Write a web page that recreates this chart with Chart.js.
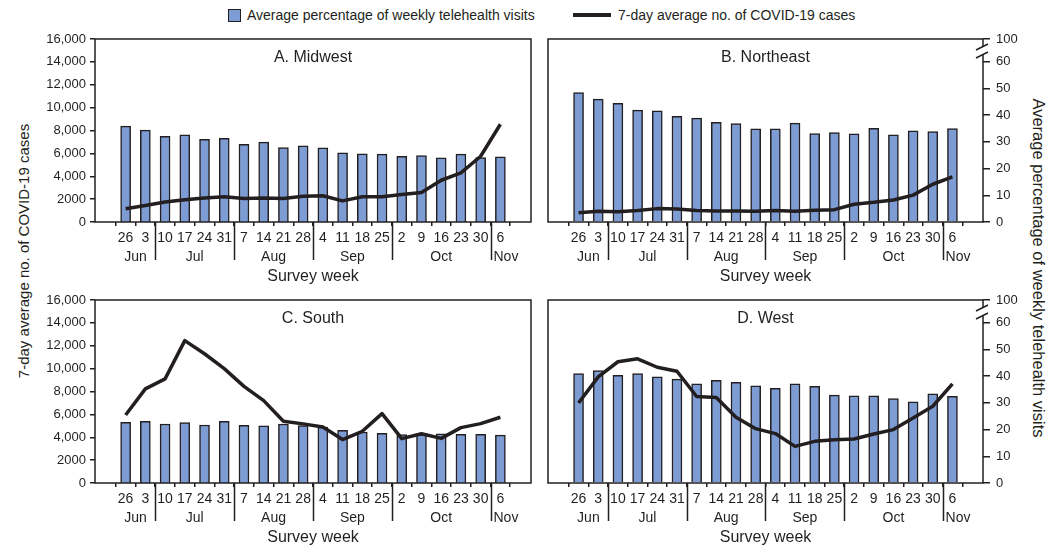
<!DOCTYPE html>
<html>
<head>
<meta charset="utf-8">
<script src="https://cdn.jsdelivr.net/npm/chart.js@4.4.1/dist/chart.umd.min.js"></script>
<style>
  body { margin: 0; background: #fff; font-family: "Liberation Sans", Arial, sans-serif; color: #231f20; }
  #wrap { position: relative; width: 1062px; height: 555px; overflow: hidden; }
  .panel { position: absolute; width: 540px; height: 260px; }
  .panel.right { width: 522px; }
  .lg { position: absolute; font-size: 14px; line-height: 16px; white-space: nowrap; }
  .ytitle { position: absolute; font-size: 15px; line-height: 18px; white-space: nowrap; }
</style>
</head>
<body>
<div id="wrap">
  <!-- legend -->
  <div class="lg" style="left:228px;top:9px;width:11px;height:11px;background:#7d9cd4;border:1.5px solid #231f20;"></div>
  <div class="lg" style="left:247px;top:7px;">Average percentage of weekly telehealth visits</div>
  <div class="lg" style="left:573px;top:13px;width:38px;height:4px;background:#231f20;"></div>
  <div class="lg" style="left:618px;top:7px;">7-day average no. of COVID-19 cases</div>

  <!-- axis titles -->
  <div class="ytitle" style="left:24px;top:251px;transform:translate(-50%,-50%) rotate(-90deg);">7-day average no. of COVID-19 cases</div>
  <div class="ytitle" style="left:1039px;top:268px;font-size:16.5px;transform:translate(-50%,-50%) rotate(90deg);">Average percentage of weekly telehealth visits</div>

  <div class="panel" style="left:0;top:30px;"><canvas id="chartMidwest"></canvas></div>
  <div class="panel right" style="left:540px;top:30px;"><canvas id="chartNortheast"></canvas></div>
  <div class="panel" style="left:0;top:291px;"><canvas id="chartSouth"></canvas></div>
  <div class="panel right" style="left:540px;top:291px;"><canvas id="chartWest"></canvas></div>
</div>

<script>
// Semanas da pesquisa (rótulos do eixo x)
const weekDays = ['26', '3', '10', '17', '24', '31', '7', '14', '21', '28',
                  '4', '11', '18', '25', '2', '9', '16', '23', '30', '6'];
const monthNames = ['Jun', 'Jul', 'Aug', 'Sep', 'Oct', 'Nov'];
const monthWeeks = [2, 4, 4, 4, 5, 1];

// Eixo esquerdo: casos
const caseTickValues = [0, 2000, 4000, 6000, 8000, 10000, 12000, 14000, 16000];
const caseTickLabels = ['0', '2000', '4,000', '6,000', '8,000', '10,000', '12,000', '14,000', '16,000'];

// Eixo direito: percentual (com quebra 60 -> 100)
const pctTickValues = [0, 10, 20, 30, 40, 50, 60];
const pctTickLabels = ['0', '10', '20', '30', '40', '50', '60', '100'];
const PCT_AXIS_TOP = 68.5; // posição do "100" depois da quebra

// A. Midwest
const midwestVisits = [35.9, 34.4, 32.1, 32.6, 30.9, 31.3, 29.1, 29.9, 27.9, 28.5,
                       27.8, 25.9, 25.5, 25.4, 24.6, 24.9, 24.0, 25.4, 24.1, 24.4];
const midwestCases = [1150, 1450, 1750, 1950, 2100, 2200, 2050, 2100, 2050, 2250,
                      2300, 1850, 2200, 2200, 2400, 2580, 3650, 4300, 5750, 8550];

// B. Northeast
const northeastVisits = [48.4, 46.0, 44.4, 41.9, 41.6, 39.6, 38.9, 37.3, 36.8, 34.9,
                         34.9, 37.0, 33.1, 33.5, 33.0, 35.1, 32.6, 34.1, 33.8, 35.0];
const northeastCases = [800, 940, 900, 1000, 1170, 1140, 1000, 960, 960, 940,
                        1000, 940, 1020, 1080, 1550, 1720, 1930, 2350, 3300, 3950];

// C. South
const southVisits = [22.7, 23.1, 22.1, 22.6, 21.7, 23.1, 21.6, 21.4, 22.1, 21.5,
                     20.9, 19.7, 19.1, 18.6, 18.1, 18.1, 18.4, 18.2, 18.2, 17.9];
const southCases = [5950, 8230, 9100, 12450, 11300, 10000, 8450, 7200, 5400, 5170,
                    4900, 3800, 4520, 6070, 3880, 4300, 3900, 4840, 5190, 5750];

// D. West
const westVisits = [41.0, 42.1, 40.3, 41.0, 39.7, 38.9, 37.1, 38.4, 37.7, 36.4,
                    35.4, 37.1, 36.2, 32.9, 32.6, 32.6, 31.6, 30.4, 33.4, 32.4];
const westCases = [7000, 9280, 10600, 10860, 10120, 9770, 7560, 7470, 5750, 4750,
                   4320, 3200, 3640, 3790, 3850, 4290, 4670, 5690, 6710, 8670];

const INK = '#231f20';
const BAR_BLUE = '#7d9cd4';
const FONT = '"Liberation Sans", Arial, sans-serif';

Chart.defaults.font.family = FONT;
Chart.defaults.color = INK;

// Moldura, meses, título do painel e quebra do eixo
const panelDecor = {
  id: 'panelDecor',
  afterDraw(chart, args, opts) {
    const { ctx, chartArea } = chart;
    const xs = chart.scales.x;
    ctx.save();
    ctx.strokeStyle = INK;
    ctx.lineWidth = 1.5;
    ctx.strokeRect(chartArea.left, chartArea.top, chartArea.right - chartArea.left, chartArea.bottom - chartArea.top);

    // separadores e nomes dos meses
    ctx.fillStyle = INK;
    ctx.font = '14px ' + FONT;
    ctx.textBaseline = 'middle';
    let cum = 0;
    monthNames.forEach((m, i) => {
      const span = monthWeeks[i];
      if (span === 1) {
        // mês de uma semana só: texto começa logo depois do separador
        ctx.textAlign = 'left';
        ctx.fillText(m, xs.getPixelForValue(cum + 0.5) + 3, chartArea.bottom + 35);
      } else {
        ctx.textAlign = 'center';
        ctx.fillText(m, xs.getPixelForValue(cum + (span + 1) / 2), chartArea.bottom + 35);
      }
      cum += span;
      if (i < monthNames.length - 1) {
        const sx = Math.round(xs.getPixelForValue(cum + 0.5)) + 0.5;
        ctx.beginPath();
        ctx.moveTo(sx, chartArea.bottom);
        ctx.lineTo(sx, chartArea.bottom + 38);
        ctx.stroke();
      }
    });

    ctx.textAlign = 'center';
    ctx.font = '16px ' + FONT;
    const midX = (chartArea.left + chartArea.right) / 2;
    ctx.fillText('Survey week', midX, chartArea.bottom + 55);
    ctx.fillText(opts.title, midX, chartArea.top + 19);

    if (opts.side === 'right') {
      const ys = chart.scales.yR;
      const x = chartArea.right;
      const yA = ys.getPixelForValue(65.5);
      const yB = ys.getPixelForValue(62.5);
      ctx.fillStyle = '#fff';
      ctx.fillRect(x - 2, yA, 4, yB - yA);
      ctx.beginPath();
      ctx.moveTo(x - 7, yA + 3); ctx.lineTo(x + 5, yA - 3);
      ctx.moveTo(x - 7, yB + 3); ctx.lineTo(x + 5, yB - 3);
      ctx.stroke();
    }
    ctx.restore();
  }
};

function toPoints(arr) {
  return arr.map((v, i) => ({ x: i + 1, y: v }));
}

// zera o padding que o eixo pede, para a área do gráfico ficar fixa
function fixar(s, w, h) {
  if (w !== undefined) s.width = w;
  if (h !== undefined) s.height = h;
  s.paddingTop = 0;
  s.paddingBottom = 0;
  s.paddingLeft = 0;
  s.paddingRight = 0;
}

function criarPainel(canvasId, title, visits, cases, side) {
  const ctx = document.getElementById(canvasId).getContext('2d');
  const isLeft = side === 'left';
  return new Chart(ctx, {
    type: 'bar',
    data: {
      datasets: [
        {
          type: 'line',
          label: '7-day average no. of COVID-19 cases',
          data: toPoints(cases),
          yAxisID: 'yL',
          borderColor: INK,
          borderWidth: 3.5,
          borderJoinStyle: 'round',
          pointRadius: 0,
          tension: 0,
          order: 0
        },
        {
          type: 'bar',
          label: 'Average percentage of weekly telehealth visits',
          data: toPoints(visits),
          yAxisID: 'yR',
          backgroundColor: BAR_BLUE,
          borderColor: INK,
          borderWidth: 1.5,
          barThickness: 10,
          order: 1
        }
      ]
    },
    options: {
      responsive: true,
      maintainAspectRatio: false,
      animation: false,
      layout: { padding: isLeft ? { left: 0, right: 9, top: 9, bottom: 0 } : { left: 8, right: 0, top: 9, bottom: 0 } },
      plugins: {
        legend: { display: false },
        tooltip: { enabled: false },
        panelDecor: { title: title, side: side }
      },
      scales: {
        x: {
          type: 'linear',
          min: 0,
          max: 21,
          afterBuildTicks: (s) => { s.ticks = weekDays.map((d, i) => ({ value: i + 1 })); },
          afterFit: (s) => fixar(s, undefined, 68),
          ticks: {
            autoSkip: false,
            maxRotation: 0,
            padding: 4,
            font: { size: 14 },
            callback: (v) => weekDays[v - 1]
          },
          grid: { drawOnChartArea: false, tickLength: 4, color: INK, lineWidth: 1.5 },
          border: { display: false }
        },
        yL: {
          position: 'left',
          display: isLeft,
          min: 0,
          max: 16000,
          afterBuildTicks: (s) => { s.ticks = caseTickValues.map(v => ({ value: v })); },
          afterFit: (s) => fixar(s, isLeft ? 95 : 0),
          ticks: { padding: 4, font: { size: 13 }, callback: (v, i) => caseTickLabels[i] },
          grid: { drawOnChartArea: false, tickLength: 5, color: INK, lineWidth: 1.5 },
          border: { display: false }
        },
        yR: {
          position: 'right',
          display: !isLeft,
          min: 0,
          max: PCT_AXIS_TOP,
          afterBuildTicks: (s) => { s.ticks = pctTickValues.concat([PCT_AXIS_TOP]).map(v => ({ value: v })); },
          afterFit: (s) => fixar(s, isLeft ? 0 : 79),
          ticks: { padding: 6, font: { size: 13 }, callback: (v, i) => pctTickLabels[i] },
          grid: { drawOnChartArea: false, tickLength: 7, color: INK, lineWidth: 1.5 },
          border: { display: false }
        }
      }
    },
    plugins: [panelDecor]
  });
}

document.addEventListener('DOMContentLoaded', function() {
  criarPainel('chartMidwest', 'A. Midwest', midwestVisits, midwestCases, 'left');
  criarPainel('chartNortheast', 'B. Northeast', northeastVisits, northeastCases, 'right');
  criarPainel('chartSouth', 'C. South', southVisits, southCases, 'left');
  criarPainel('chartWest', 'D. West', westVisits, westCases, 'right');
});
</script>
</body>
</html>
